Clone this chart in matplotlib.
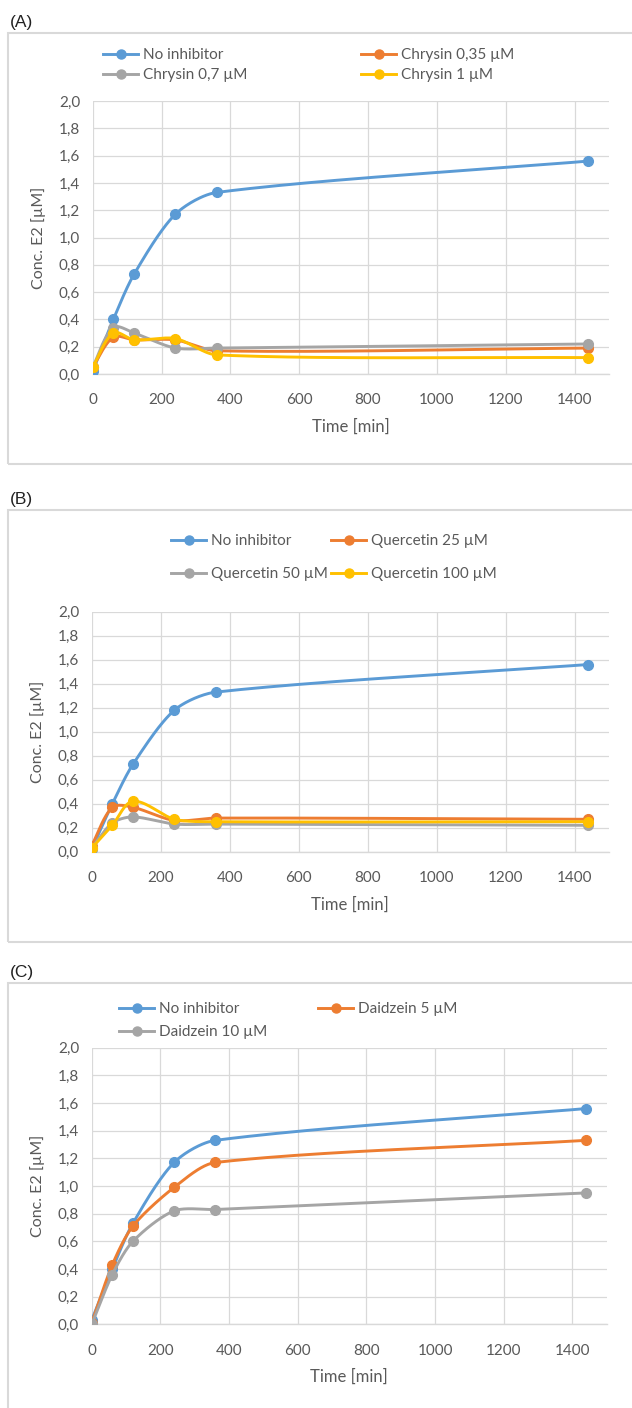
import matplotlib

matplotlib.use("Agg")
import matplotlib.pyplot as plt
import numpy as np
from matplotlib.lines import Line2D
from matplotlib.patches import Rectangle

W, H = 632, 1408

time_min = [0, 60, 120, 240, 360, 1440]

# panel A
a_labels = ["No inhibitor", "Chrysin 0,35 µM", "Chrysin 0,7 µM", "Chrysin 1 µM"]
a_no_inh = [0.02, 0.40, 0.73, 1.17, 1.33, 1.56]
a_chr035 = [0.05, 0.27, 0.25, 0.25, 0.17, 0.19]
a_chr07 = [0.05, 0.34, 0.30, 0.19, 0.19, 0.22]
a_chr1 = [0.05, 0.30, 0.25, 0.26, 0.14, 0.12]

# panel B
b_labels = ["No inhibitor", "Quercetin 25 µM", "Quercetin 50 µM", "Quercetin 100 µM"]
b_no_inh = [0.02, 0.40, 0.73, 1.18, 1.33, 1.56]
b_q25 = [0.05, 0.37, 0.37, 0.26, 0.28, 0.27]
b_q50 = [0.03, 0.24, 0.29, 0.23, 0.23, 0.22]
b_q100 = [0.03, 0.22, 0.42, 0.27, 0.25, 0.25]

# panel C
c_labels = ["No inhibitor", "Daidzein 5 µM", "Daidzein 10 µM"]
c_no_inh = [0.03, 0.40, 0.73, 1.17, 1.33, 1.56]
c_d5 = [0.01, 0.43, 0.71, 0.99, 1.17, 1.33]
c_d10 = [0.00, 0.36, 0.60, 0.82, 0.83, 0.95]

COLORS = ["#5B9BD5", "#ED7D31", "#A5A5A5", "#FFC000"]
GRID = "#D9D9D9"
TXT = "#595959"
FONT = "Lato"


def fx(px):
    return px / W


def fy(py):
    return 1 - py / H


def smooth(x, y, wpx, hpx, xmax=1500, ymax=2.0, n=40, k=0.28):
    # smoothed line like Excel: bezier segments, tangent from neighbours,
    # handle length a fraction of the segment so long gaps don't overshoot
    p = np.column_stack([np.asarray(x) / xmax * wpx, np.asarray(y) / ymax * hpx])
    ext = np.vstack([p[0], p, p[-1]])
    out = []
    t = np.linspace(0, 1, n)[:, None]
    for i in range(len(p) - 1):
        p0, p1, p2, p3 = ext[i], ext[i + 1], ext[i + 2], ext[i + 3]
        L = np.hypot(*(p2 - p1))
        d1 = (p2 - p0) / np.hypot(*(p2 - p0))
        d2 = (p3 - p1) / np.hypot(*(p3 - p1))
        c1 = p1 + d1 * L * k
        c2 = p2 - d2 * L * k
        seg = (1 - t) ** 3 * p1 + 3 * (1 - t) ** 2 * t * c1 + 3 * (1 - t) * t ** 2 * c2 + t ** 3 * p2
        out.append(seg)
    out = np.vstack(out)
    return out[:, 0] / wpx * xmax, out[:, 1] / hpx * ymax


def panel(fig, box, label, axpx, series, labels, legend_cols, rowsp):
    top, bottom = box
    fig.add_artist(Rectangle((fx(8), fy(bottom)), fx(640) - fx(8), fy(top) - fy(bottom),
                             transform=fig.transFigure, fill=False, ec=GRID, lw=1.5))
    fig.text(fx(10), fy(top - 11), label, fontsize=12.5, family="Liberation Sans",
             color="#222222", va="center", ha="left")

    left, right, ytop, ybot = axpx
    ax = fig.add_axes([fx(left), fy(ybot), fx(right) - fx(left), fy(ytop) - fy(ybot)])
    wpx, hpx = right - left, ybot - ytop
    for vals, col in zip(series, COLORS):
        xs, ys = smooth(time_min, vals, wpx, hpx)
        ax.plot(xs, ys, color=col, lw=2.1, solid_capstyle="round", zorder=3)
        ax.plot(time_min, vals, "o", color=col, ms=7, zorder=3)

    ax.set_xlim(0, 1500)
    ax.set_ylim(0, 2.0)
    ax.set_xticks(np.arange(0, 1401, 200))
    ax.set_yticks(np.arange(0, 2.01, 0.2))
    ax.set_yticklabels([f"{v:.1f}".replace(".", ",") for v in np.arange(0, 2.01, 0.2)])
    ax.grid(True, color=GRID, lw=0.9)
    ax.set_axisbelow(True)
    for s in ["top", "right", "left"]:
        ax.spines[s].set_visible(False)
    ax.spines["bottom"].set_color(GRID)
    ax.spines["bottom"].set_linewidth(1.0)
    ax.tick_params(length=0, labelsize=11, labelcolor=TXT)
    ax.tick_params(axis="x", pad=14)
    ax.tick_params(axis="y", pad=9)
    for t in ax.get_xticklabels() + ax.get_yticklabels():
        t.set_family(FONT)
    ax.set_xlabel("Time [min]", fontsize=12, color=TXT, family=FONT, labelpad=8)
    ax.set_ylabel("Conc. E2 [µM]", fontsize=11.5, color=TXT, family=FONT, labelpad=9)

    handles = [Line2D([], [], color=c, lw=2.1, marker="o", ms=6.5) for c in COLORS[:len(series)]]
    for (xl, yrow), idx in legend_cols:
        leg = fig.legend([handles[i] for i in idx], [labels[i] for i in idx],
                         loc="upper left", bbox_to_anchor=(fx(xl), fy(yrow)),
                         bbox_transform=fig.transFigure, frameon=False, borderpad=0,
                         borderaxespad=0, handlelength=2.3, handletextpad=0.3,
                         labelspacing=rowsp, prop={"family": FONT, "size": 11})
        for t in leg.get_texts():
            t.set_color(TXT)
    return ax


def main() -> None:
    fig = plt.figure(figsize=(W / 100, H / 100), dpi=100)

    panel(fig, (33, 464), "(A)", (92.7, 609, 101, 374),
          [a_no_inh, a_chr035, a_chr07, a_chr1], a_labels,
          [((103, 48), [0, 2]), ((361, 48), [1, 3])], 0.4)
    panel(fig, (510, 942), "(B)", (91.7, 609, 611.7, 851.7),
          [b_no_inh, b_q25, b_q50, b_q100], b_labels,
          [((171, 534), [0, 2]), ((331, 534), [1, 3])], 1.25)
    panel(fig, (983, 1415), "(C)", (91.7, 606.7, 1047.7, 1324.3),
          [c_no_inh, c_d5, c_d10], c_labels,
          [((119, 1002), [0, 2]), ((318, 1002), [1])], 0.6)

    fig.savefig("out.png", dpi=100)
    plt.close(fig)


if __name__ == "__main__":
    main()
